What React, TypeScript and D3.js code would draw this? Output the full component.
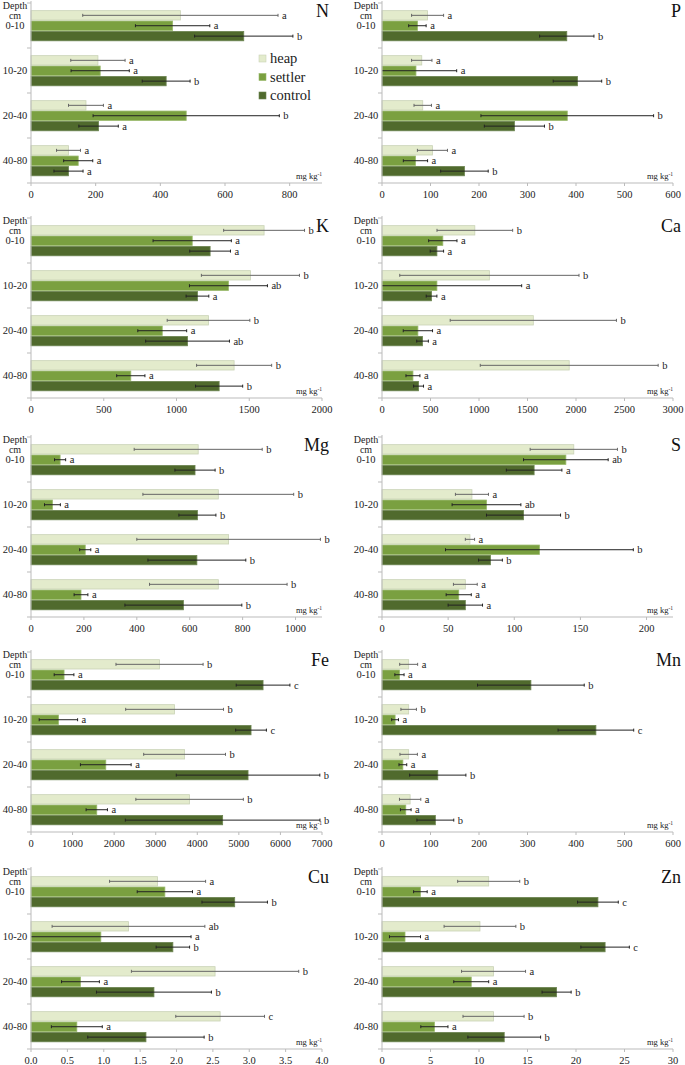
import React from "react";
import * as d3 from "d3";

const depths = ["0-10", "10-20", "20-40", "40-80"];
const seriesNames = ["heap", "settler", "control"];
const seriesColors = ["#e3ebcc", "#7aa040", "#506a2d"];
const seriesStroke = ["#c9d2b6", "#98b86a", "#6c8450"];

// values per series: [heap, settler, control], each over depths
const nMean = [[462, 207, 170, 116], [438, 214, 480, 146], [658, 418, 209, 116]];
const nErr = [[302, 84, 54, 37], [115, 90, 288, 45], [152, 74, 61, 45]];
const nSig = [["a", "a", "a", "a"], ["a", "a", "b", "a"], ["b", "b", "a", "a"]];
const nTicks = [0, 200, 400, 600, 800];

const pMean = [[94, 82, 84, 104], [73, 70, 382, 69], [381, 403, 273, 170]];
const pErr = [[33, 21, 18, 31], [18, 84, 178, 25], [56, 50, 62, 49]];
const pSig = [["a", "a", "a", "a"], ["a", "a", "b", "a"], ["b", "b", "b", "b"]];
const pTicks = [0, 100, 200, 300, 400, 500, 600];

const kMean = [[1602, 1508, 1220, 1396], [1108, 1357, 902, 686], [1231, 1144, 1076, 1293]];
const kErr = [[278, 337, 284, 258], [269, 268, 168, 97], [140, 78, 288, 162]];
const kSig = [["b", "b", "b", "b"], ["a", "ab", "a", "a"], ["a", "a", "ab", "b"]];
const kTicks = [0, 500, 1000, 1500, 2000];

const caMean = [[957, 1107, 1560, 1930], [627, 566, 370, 319], [566, 511, 418, 377]];
const caErr = [[390, 924, 857, 917], [146, 874, 151, 72], [69, 55, 60, 51]];
const caSig = [["b", "b", "b", "b"], ["a", "a", "a", "a"], ["a", "a", "a", "a"]];
const caTicks = [0, 500, 1000, 1500, 2000, 2500, 3000];

const mgMean = [[632, 708, 747, 708], [110, 81, 205, 189], [620, 629, 627, 576]];
const mgErr = [[242, 285, 347, 260], [21, 30, 21, 26], [76, 70, 185, 221]];
const mgSig = [["b", "b", "b", "b"], ["a", "a", "a", "a"], ["b", "b", "b", "b"]];
const mgTicks = [0, 200, 400, 600, 800, 1000];

const sMean = [[145, 68, 66.5, 63], [139, 79, 119, 58], [115, 107, 82, 63]];
const sErr = [[33, 12.5, 3.5, 9], [32, 26, 71, 9.5], [21, 28, 9, 13]];
const sSig = [["b", "a", "a", "a"], ["ab", "ab", "b", "a"], ["a", "b", "b", "a"]];
const sTicks = [0, 50, 100, 150, 200];

const feMean = [[3092, 3454, 3695, 3815], [795, 659, 1799, 1582], [5582, 5293, 5221, 4610]];
const feErr = [[1048, 1177, 984, 1293], [237, 462, 610, 257], [646, 370, 1727, 2341]];
const feSig = [["b", "b", "b", "b"], ["a", "a", "a", "a"], ["c", "c", "b", "b"]];
const feTicks = [0, 1000, 2000, 3000, 4000, 5000, 6000, 7000];

const mnMean = [[55, 55, 55, 58], [36, 27, 43, 49], [307, 441, 115, 110]];
const mnErr = [[18.5, 16, 18, 22], [9.5, 7, 8, 11], [110, 78, 58, 38]];
const mnSig = [["a", "b", "a", "a"], ["a", "a", "a", "a"], ["b", "c", "b", "b"]];
const mnTicks = [0, 100, 200, 300, 400, 500, 600];

const cuMean = [[1.74, 1.34, 2.53, 2.6], [1.84, 0.96, 0.68, 0.63], [2.8, 1.95, 1.69, 1.58]];
const cuErr = [[0.66, 1.05, 1.15, 0.61], [0.38, 1.24, 0.26, 0.35], [0.45, 0.23, 0.79, 0.8]];
const cuSig = [["a", "ab", "b", "c"], ["a", "a", "a", "a"], ["b", "b", "b", "b"]];
const cuTicks = [0, 0.5, 1, 1.5, 2, 2.5, 3, 3.5, 4];

const znMean = [[11.0, 10.1, 11.5, 11.5], [3.96, 2.37, 9.2, 5.4], [22.26, 23.0, 18.0, 12.6]];
const znErr = [[3.2, 3.7, 3.3, 3.15], [0.7, 1.6, 1.8, 1.4], [2.1, 2.5, 1.5, 3.75]];
const znSig = [["b", "b", "a", "b"], ["a", "a", "a", "a"], ["c", "c", "b", "b"]];
const znTicks = [0, 5, 10, 15, 20, 25, 30];

type PanelDef = {
  title: string; mean: number[][]; err: number[][]; sig: string[][];
  ticks: number[]; max: number; fmt?: (v: number) => string;
  col: number; row: number; legend?: boolean;
};

const panels: PanelDef[] = [
  { title: "N", mean: nMean, err: nErr, sig: nSig, ticks: nTicks, max: 900, col: 0, row: 0, legend: true },
  { title: "P", mean: pMean, err: pErr, sig: pSig, ticks: pTicks, max: 600, col: 1, row: 0 },
  { title: "K", mean: kMean, err: kErr, sig: kSig, ticks: kTicks, max: 2000, col: 0, row: 1 },
  { title: "Ca", mean: caMean, err: caErr, sig: caSig, ticks: caTicks, max: 3000, col: 1, row: 1 },
  { title: "Mg", mean: mgMean, err: mgErr, sig: mgSig, ticks: mgTicks, max: 1100, col: 0, row: 2 },
  { title: "S", mean: sMean, err: sErr, sig: sSig, ticks: sTicks, max: 220, col: 1, row: 2 },
  { title: "Fe", mean: feMean, err: feErr, sig: feSig, ticks: feTicks, max: 7000, col: 0, row: 3 },
  { title: "Mn", mean: mnMean, err: mnErr, sig: mnSig, ticks: mnTicks, max: 600, col: 1, row: 3 },
  { title: "Cu", mean: cuMean, err: cuErr, sig: cuSig, ticks: cuTicks, max: 4, fmt: d3.format(".1f"), col: 0, row: 4 },
  { title: "Zn", mean: znMean, err: znErr, sig: znSig, ticks: znTicks, max: 30, col: 1, row: 4 },
];

const colX = [[31, 322], [382, 673]];
const rowTop = [3, 218, 437, 652, 869];
const plotH = 180;
const FONT = "Liberation Serif, Times New Roman, DejaVu Serif, serif";

function Panel({ p }: { p: PanelDef }) {
  const [x0, x1] = colX[p.col];
  const top = rowTop[p.row];
  const bottom = top + plotH;
  const x = d3.scaleLinear().domain([0, p.max]).range([x0, x1]);
  const y = d3.scaleBand<string>().domain(depths).range([top, bottom]).padding(0);
  const bw = y.bandwidth();
  const inner = d3.scaleBand<string>().domain(seriesNames).range([bw * 0.17, bw * 0.84]).paddingInner(0.1);
  const fmt = p.fmt || ((v: number) => String(v));
  const titleX = p.col === 0 ? 329 : 681;
  const boundaries = depths.map((d) => y(d) as number).concat([bottom]);
  return (
    <g>
      {seriesNames.map((s, si) =>
        depths.map((d, di) => {
          const v = p.mean[si][di];
          const yy = (y(d) as number) + (inner(s) as number);
          return (
            <rect key={s + d} x={x(0)} y={yy} width={x(v) - x(0)} height={inner.bandwidth()}
              fill={seriesColors[si]} stroke={seriesStroke[si]} strokeWidth={0.8} />
          );
        })
      )}
      {seriesNames.map((s, si) =>
        depths.map((d, di) => {
          const v = p.mean[si][di];
          const e = p.err[si][di];
          const cy = (y(d) as number) + (inner(s) as number) + inner.bandwidth() / 2;
          const lo = Math.max(0, v - e);
          const xl = x(lo);
          const xr = x(v + e);
          const col = si === 0 ? "#666" : "#222";
          return (
            <g key={"e" + s + d}>
              <line x1={xl} x2={xr} y1={cy} y2={cy} stroke={col} strokeWidth={1} />
              {v - e > 0 && <line x1={xl} x2={xl} y1={cy - 1.5} y2={cy + 1.5} stroke={col} strokeWidth={1} />}
              <line x1={xr} x2={xr} y1={cy - 1.5} y2={cy + 1.5} stroke={col} strokeWidth={1} />
              <text x={xr + 4} y={cy + 3.5} fontSize={10.5} style={{ fontFamily: FONT }} fill="#222">{p.sig[si][di]}</text>
            </g>
          );
        })
      )}
      <line x1={x0} x2={x0} y1={top - 2} y2={bottom} stroke="#bbb" strokeWidth={1} />
      {boundaries.map((b, i) => (
        <line key={"yt" + i} x1={x0 - 4} x2={x0} y1={b} y2={b} stroke="#bbb" strokeWidth={1} />
      ))}
      <line x1={x0} x2={x1} y1={bottom} y2={bottom} stroke="#bbb" strokeWidth={1} />
      {p.ticks.map((t) => (
        <g key={"xt" + t}>
          <line x1={x(t)} x2={x(t)} y1={bottom} y2={bottom + 3} stroke="#bbb" strokeWidth={1} />
          <text x={x(t)} y={bottom + 15} textAnchor="middle" fontSize={10.5} style={{ fontFamily: FONT }} fill="#222">{fmt(t)}</text>
        </g>
      ))}
      <text x={x0 - 16} y={top + 6} textAnchor="middle" fontSize={10} style={{ fontFamily: FONT }} fill="#222">Depth</text>
      <text x={x0 - 16} y={top + 16} textAnchor="middle" fontSize={10} style={{ fontFamily: FONT }} fill="#222">cm</text>
      {depths.map((d) => (
        <text key={"dl" + d} x={x0 - 16} y={(y(d) as number) + bw / 2 + 3.5} textAnchor="middle" fontSize={10.5} style={{ fontFamily: FONT }} fill="#222">{d}</text>
      ))}
      <text x={x1} y={bottom - 4} textAnchor="end" fontSize={8.5} style={{ fontFamily: FONT }} fill="#222">
        mg kg<tspan dy={-3} fontSize={5.5}>-1</tspan>
      </text>
      <text x={titleX} y={top + 14} textAnchor="end" fontSize={18} style={{ fontFamily: FONT }} fill="#111">{p.title}</text>
      {p.legend &&
        seriesNames.map((s, si) => (
          <g key={"lg" + s}>
            <rect x={259} y={top + 52 + si * 18.5} width={7} height={7} fill={seriesColors[si]} stroke={seriesStroke[si]} strokeWidth={0.6} />
            <text x={270} y={top + 60 + si * 18.5} fontSize={14.5} style={{ fontFamily: FONT }} fill="#222">{s}</text>
          </g>
        ))}
    </g>
  );
}

export default function App() {
  return (
    <div style={{ position: "absolute", left: 0, top: 0 }}>
      <svg width={685} height={1065} style={{ display: "block", background: "#fff" }}>
        {panels.map((p) => (
          <Panel key={p.title} p={p} />
        ))}
      </svg>
    </div>
  );
}
